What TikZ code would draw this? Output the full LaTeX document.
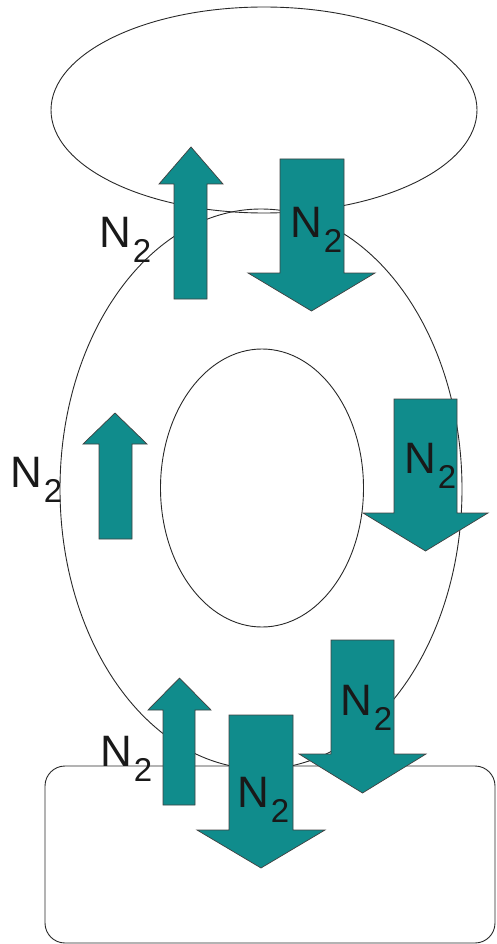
\documentclass[tikz,border=0pt]{standalone}
\usepackage{fontspec}
\setmainfont{Liberation Sans}
\definecolor{flowteal}{RGB}{16,140,140}
\definecolor{edgegray}{RGB}{40,40,40}
\newcommand{\DnArrowShape}[7]{% x1 x2 xl xr top base tip
  \fill[flowteal,draw=black!75,line width=0.7pt] (#1,#5) -- (#2,#5) -- (#2,#6) -- (#4,#6) -- ({(#3+#4)/2},#7) -- (#3,#6) -- (#1,#6) -- cycle;}
\newcommand{\UpArrowShape}[7]{% x1 x2 xl xr bottom base tip
  \fill[flowteal,draw=black!75,line width=0.7pt] (#1,#5) -- (#2,#5) -- (#2,#6) -- (#4,#6) -- ({(#3+#4)/2},#7) -- (#3,#6) -- (#1,#6) -- cycle;}
\newcommand{\NTwo}{N\kern2pt\raisebox{-15pt}{\fontsize{33}{33}\selectfont 2}}
\tikzset{
  outline/.style={draw=edgegray,line width=0.9pt},
  lbl/.style={font=\fontsize{44}{44}\selectfont,inner sep=0pt,anchor=base west,text=black!90}
}
\begin{document}
\begin{tikzpicture}[x=1pt,y=-1pt]
\useasboundingbox (0,0) rectangle (496,944);
% shapes
\draw[outline] (264,110) ellipse [x radius=213, y radius=103];
\draw[outline] (261,489) ellipse [x radius=201, y radius=280];
\draw[outline] (262,488) ellipse [x radius=101.5, y radius=139];
\draw[outline,rounded corners=20pt] (45,766) rectangle (495,943);
% arrows
\UpArrowShape{174}{207}{159}{223}{299}{184}{147}
\DnArrowShape{280}{344}{248}{375}{159}{273}{311}
\UpArrowShape{99}{132}{83}{147}{539}{444}{413}
\DnArrowShape{394}{457}{363}{488}{399}{513}{551}
\UpArrowShape{163}{195}{148}{211}{805}{710}{678}
\DnArrowShape{331}{394}{299}{426}{640}{754}{793}
\DnArrowShape{229}{293}{197}{325}{715}{830}{868}
% labels
\node[lbl] (la) at (99,247) {\NTwo};
\node[lbl] (lb) at (290,237) {\NTwo};
\node[lbl] (lc) at (10,487) {\NTwo};
\node[lbl] (ld) at (404,473) {\NTwo};
\node[lbl] (le) at (100,766) {\NTwo};
\node[lbl] (lf) at (237,807) {\NTwo};
\node[lbl] (lg) at (340,715) {\NTwo};
\end{tikzpicture}
\end{document}
